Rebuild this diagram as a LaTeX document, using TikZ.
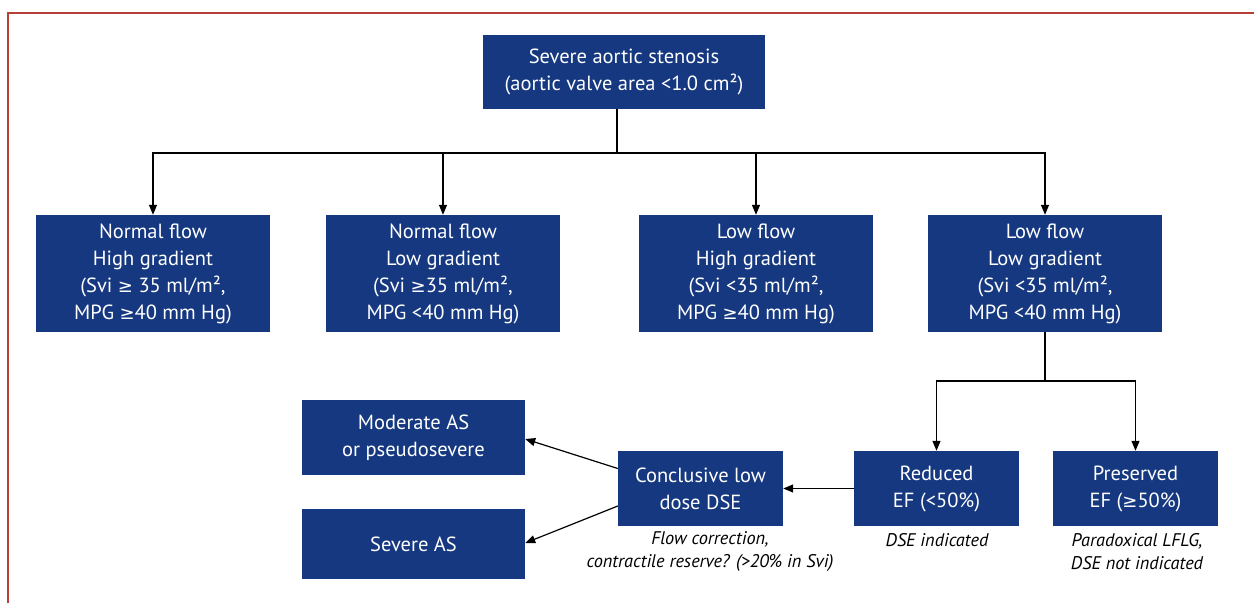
\documentclass[tikz,border=0pt]{standalone}
\usepackage{fontspec}
\setmainfont{PT Sans}
\newfontfamily\symf{DejaVu Sans}[Scale=0.88]
\newcommand\gtreq{{\symf ≥}}
\usetikzlibrary{arrows.meta}
\definecolor{boxblue}{RGB}{21,56,128}
\definecolor{framered}{RGB}{184,62,56}
\tikzset{
  box/.style={fill=boxblue,text=white,align=center,inner sep=0pt,
    font=\fontsize{20.5}{27}\selectfont},
  note/.style={align=center,inner sep=0pt,font=\fontsize{18.3}{23}\selectfont\itshape},
  link/.style={draw=black,line width=1.2pt},
  arr/.style={link,-{Triangle[length=10pt,width=8pt]}}
}
\begin{document}
\begin{tikzpicture}[x=1pt,y=-1pt]
\useasboundingbox (0,0) rectangle (1254,603);
\draw[framered,line width=2pt] (8,603) -- (8,13) -- (1254,13);

\node[box,minimum width=282pt,minimum height=74pt] (top) at (624,72)
  {Severe aortic stenosis\\(aortic valve area <1.0 cm²)};

\node[box,minimum width=234pt,minimum height=117pt] (b1) at (153,273.5)
  {Normal flow\\High gradient\\(Svi \gtreq{} 35 ml/m²,\\MPG \gtreq40 mm Hg)};
\node[box,minimum width=234pt,minimum height=117pt] (b2) at (443,273.5)
  {Normal flow\\Low gradient\\(Svi \gtreq35 ml/m²,\\MPG <40 mm Hg)};
\node[box,minimum width=234pt,minimum height=117pt] (b3) at (756,273.5)
  {Low flow\\High gradient\\(Svi <35 ml/m²,\\MPG \gtreq40 mm Hg)};
\node[box,minimum width=234pt,minimum height=117pt] (b4) at (1045,273.5)
  {Low flow\\Low gradient\\(Svi <35 ml/m²,\\MPG <40 mm Hg)};

\node[box,minimum width=165pt,minimum height=75pt] (red) at (936.5,488.5)
  {Reduced\\EF (<50\%)};
\node[box,minimum width=165pt,minimum height=75pt] (pres) at (1135.5,488.5)
  {Preserved\\EF (\gtreq50\%)};
\node[box,minimum width=165pt,minimum height=75pt] (conc) at (700.5,488.5)
  {Conclusive low\\dose DSE};
\node[box,minimum width=223pt,minimum height=75pt] (mod) at (413.5,437.5)
  {Moderate AS\\or pseudosevere};
\node[box,minimum width=223pt,minimum height=70pt] (sev) at (413.5,544)
  {Severe AS};

\node[note] (c1) at (937,540) {DSE indicated};
\node[note] (c2) at (1137,551.5) {Paradoxical LFLG,\\DSE not indicated};
\node[note] (c3) at (710,551.5) {Flow correction,\\contractile reserve? (>20\% in Svi)};

\coordinate (j1) at (617,153);
\coordinate (j2) at (1045,381);
\draw[link] (top.south -| j1) -- (j1);
\draw[arr] (j1) -| (b1.north);
\draw[arr] (j1) -| (b2.north);
\draw[arr] (j1) -| (b3.north);
\draw[arr] (j1) -| (b4.north);
\draw[link] (b4.south) -- (j2);
\draw[arr] (j2) -| (red.north);
\draw[arr] (j2) -| (pres.north);
\draw[arr] (red.west) -- (conc.east);
\draw[arr] ([yshift=20pt]conc.west) -- ([yshift=-1.5pt]mod.east);
\draw[arr] ([yshift=-17.5pt]conc.west) -- ([yshift=1pt]sev.east);
\end{tikzpicture}
\end{document}
